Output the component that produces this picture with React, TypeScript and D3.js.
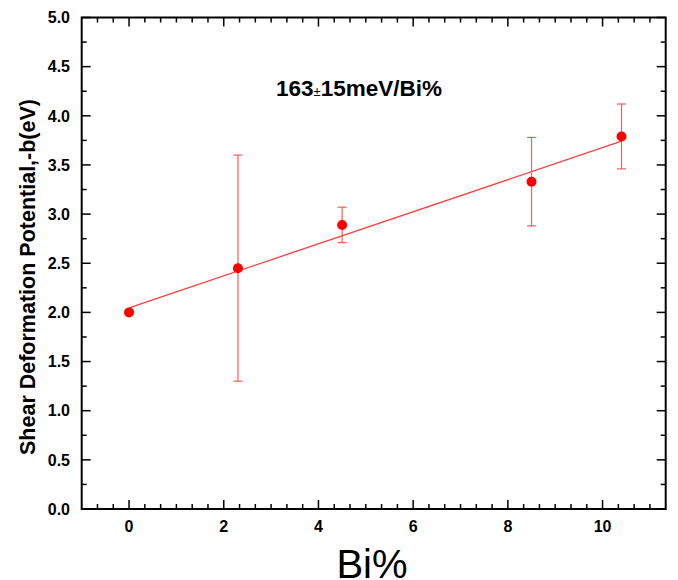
import React from "react";
import * as d3 from "d3";

const bi = [0, 2.3, 4.5, 8.5, 10.4];
const shear = [2.0, 2.45, 2.89, 3.33, 3.79];
const errs = [0, 1.15, 0.18, 0.45, 0.33];
const fitIntercept = 2.046;
const fitSlope = 0.163;
const fitRange = [0, 10.4];
const xTicks = [0, 2, 4, 6, 8, 10];
const yTicks = [0, 0.5, 1, 1.5, 2, 2.5, 3, 3.5, 4, 4.5, 5];

const W = 678, H = 580;
const L = 81.7, R = 665.7, T = 17.5, B = 509;

export default function App() {
  const x = d3.scaleLinear().domain([-1, 11.3333]).range([L, R]);
  const y = d3.scaleLinear().domain([0, 5]).range([B, T]);
  const xMinor = d3.range(-1, 11.34, 1 / 3).filter(v => Math.abs(v - Math.round(v / 2) * 2) > 1e-6);
  const yMinor = d3.range(0.25, 5, 0.5);
  const line = d3.line<number>().x(v => x(v)).y(v => y(fitIntercept + fitSlope * v));
  const font = "Arial, 'Liberation Sans', sans-serif";
  const red = "#ff0000";
  const errColor = "#ff5a5a";
  return (
    <svg width={W} height={H} style={{ position: "absolute", left: 0, top: 0, background: "#fff" }} fontFamily={font}>
      <path d={line(fitRange) || ""} stroke="#ff3c3c" strokeWidth={1.3} fill="none" />
      {bi.map((b, i) => errs[i] > 0 ? (
        <g key={"e" + i} stroke={errColor} strokeWidth={1.2}>
          <line x1={x(b)} x2={x(b)} y1={y(shear[i] + errs[i])} y2={y(shear[i] - errs[i])} />
          <line x1={x(b) - 4.5} x2={x(b) + 4.5} y1={y(shear[i] + errs[i])} y2={y(shear[i] + errs[i])} />
          <line x1={x(b) - 4.5} x2={x(b) + 4.5} y1={y(shear[i] - errs[i])} y2={y(shear[i] - errs[i])} />
        </g>
      ) : null)}
      {bi.map((b, i) => (
        <circle key={"p" + i} cx={x(b)} cy={y(shear[i])} r={5} fill={red} />
      ))}
      <rect x={L} y={T} width={R - L} height={B - T} fill="none" stroke="#000" strokeWidth={2} />
      {xTicks.map(v => (
        <g key={"xt" + v}>
          <line x1={x(v)} x2={x(v)} y1={B} y2={B - 9} stroke="#000" strokeWidth={1.5} />
          <line x1={x(v)} x2={x(v)} y1={T} y2={T + 9} stroke="#000" strokeWidth={1.5} />
          <text x={x(v)} y={532} textAnchor="middle" fontSize={16} fontWeight="bold">{v}</text>
        </g>
      ))}
      {xMinor.filter(v => v > -0.99 && v < 11.3).map((v, i) => (
        <g key={"xm" + i}>
          <line x1={x(v)} x2={x(v)} y1={B} y2={B - 5} stroke="#000" strokeWidth={1.5} />
          <line x1={x(v)} x2={x(v)} y1={T} y2={T + 5} stroke="#000" strokeWidth={1.5} />
        </g>
      ))}
      {yTicks.map(v => (
        <g key={"yt" + v}>
          <line x1={L} x2={L + 9} y1={y(v)} y2={y(v)} stroke="#000" strokeWidth={1.5} />
          <line x1={R} x2={R - 9} y1={y(v)} y2={y(v)} stroke="#000" strokeWidth={1.5} />
          <text x={70} y={y(v) + 5.7} textAnchor="end" fontSize={16} fontWeight="bold">{v.toFixed(1)}</text>
        </g>
      ))}
      {yMinor.map((v, i) => (
        <g key={"ym" + i}>
          <line x1={L} x2={L + 5} y1={y(v)} y2={y(v)} stroke="#000" strokeWidth={1.5} />
          <line x1={R} x2={R - 5} y1={y(v)} y2={y(v)} stroke="#000" strokeWidth={1.5} />
        </g>
      ))}
      <text x={372} y={578} textAnchor="middle" fontSize={40}>Bi%</text>
      <text transform="translate(35,277) rotate(-90)" textAnchor="middle" fontSize={21.5} fontWeight="bold">Shear Deformation Potential,-b(eV)</text>
      <text x={276} y={96} fontSize={22.5} fontWeight="bold">
        163<tspan fontSize={13} fontWeight="normal">±</tspan>15meV/Bi%
      </text>
    </svg>
  );
}
